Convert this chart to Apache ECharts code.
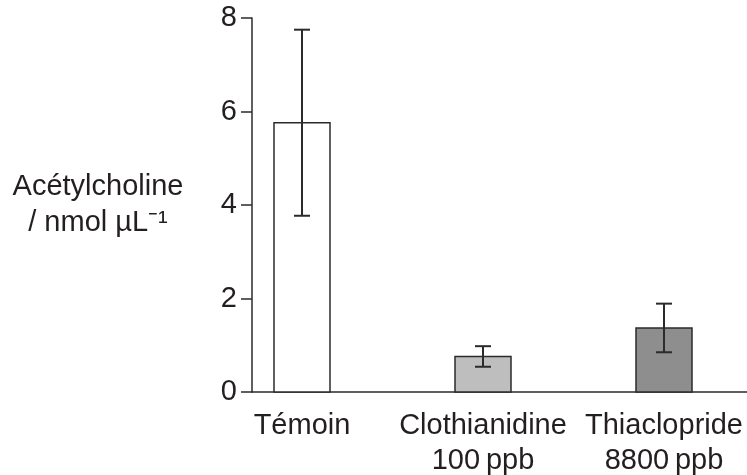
<!DOCTYPE html>
<html><head><meta charset="utf-8">
<script src="https://cdn.jsdelivr.net/npm/echarts@6/dist/echarts.min.js"></script>
<style>html,body{margin:0;padding:0;background:#fff}#c{width:747px;height:475px}</style>
</head><body><div id="c"></div>
<script>
const categories = ['Témoin', 'Clothianidine\n100\u2009ppb', 'Thiaclopride\n8800\u2009ppb'];
const means = [5.76, 0.76, 1.37];
const sd = [1.99, 0.22, 0.52];
const barColors = ['#ffffff', '#bebebe', '#8e8e8e'];
const yTicks = [0, 2, 4, 6, 8];
const yTitle = 'Acétylcholine\n/ nmol µL\u207B\u00B9';

const FONT = 'Liberation Sans';
const FS = 29;
const TXT = '#231f20';
const LINE = '#2b2b2b';
const chart = echarts.init(document.getElementById('c'), null, {renderer: 'canvas'});
const barData = means.map((m, i) => [i, m]);
const errData = means.map((m, i) => [i, m - sd[i], m + sd[i]]);

chart.setOption({
  animation: false,
  backgroundColor: '#fff',
  grid: [
    {left: 252, right: 0, top: 18, bottom: 83, containLabel: false, outerBoundsMode: 'none'},
    {left: 302, right: 83, top: 18, bottom: 83, containLabel: false, outerBoundsMode: 'none'}
  ],
  xAxis: [
    {gridIndex: 0, type: 'value', min: 0, max: 1, axisLine: {show: true, onZero: false, lineStyle: {color: LINE, width: 1.5}},
     axisTick: {show: false}, axisLabel: {show: false}, splitLine: {show: false}},
    {gridIndex: 1, type: 'category', data: categories, boundaryGap: false,
     axisLine: {show: false}, axisTick: {show: false}, splitLine: {show: false},
     axisLabel: {show: true, interval: 0, margin: 16, color: TXT, fontFamily: FONT, fontSize: FS, lineHeight: 35, align: 'center'}}
  ],
  yAxis: [
    {gridIndex: 0, type: 'value', min: yTicks[0], max: yTicks[yTicks.length - 1], interval: 2,
     axisLine: {show: true, lineStyle: {color: LINE, width: 1.5}},
     axisTick: {show: true, inside: false, length: 11, lineStyle: {color: LINE, width: 1.5}},
     axisLabel: {margin: 15, color: TXT, fontFamily: FONT, fontSize: FS},
     splitLine: {show: false}},
    {gridIndex: 1, type: 'value', min: yTicks[0], max: yTicks[yTicks.length - 1], show: false}
  ],
  graphic: [{
    type: 'text',
    style: {text: yTitle, fill: TXT, font: FS + 'px "' + FONT + '"', textAlign: 'center', textVerticalAlign: 'top', lineHeight: 36, x: 98, y: 169}
  }],
  series: [
    {type: 'custom', xAxisIndex: 1, yAxisIndex: 1, clip: false, z: 3,
     data: barData,
     renderItem: function (params, api) {
       const top = api.coord([api.value(0), api.value(1)]);
       const base = api.coord([api.value(0), 0]);
       const w = 56;
       return {type: 'rect', shape: {x: top[0] - w / 2, y: top[1], width: w, height: base[1] - top[1]},
               style: {fill: barColors[params.dataIndex], stroke: LINE, lineWidth: 1.5}};
     }},
    {type: 'custom', xAxisIndex: 1, yAxisIndex: 1, clip: false, z: 5,
     data: errData,
     renderItem: function (params, api) {
       const lo = api.coord([api.value(0), api.value(1)]);
       const hi = api.coord([api.value(0), api.value(2)]);
       const w = 8;
       const st = {stroke: LINE, lineWidth: 2};
       return {type: 'group', children: [
         {type: 'line', shape: {x1: hi[0], y1: hi[1], x2: lo[0], y2: lo[1]}, style: st},
         {type: 'line', shape: {x1: hi[0] - w, y1: hi[1], x2: hi[0] + w, y2: hi[1]}, style: st},
         {type: 'line', shape: {x1: lo[0] - w, y1: lo[1], x2: lo[0] + w, y2: lo[1]}, style: st}
       ]};
     }}
  ]
});
</script></body></html>
